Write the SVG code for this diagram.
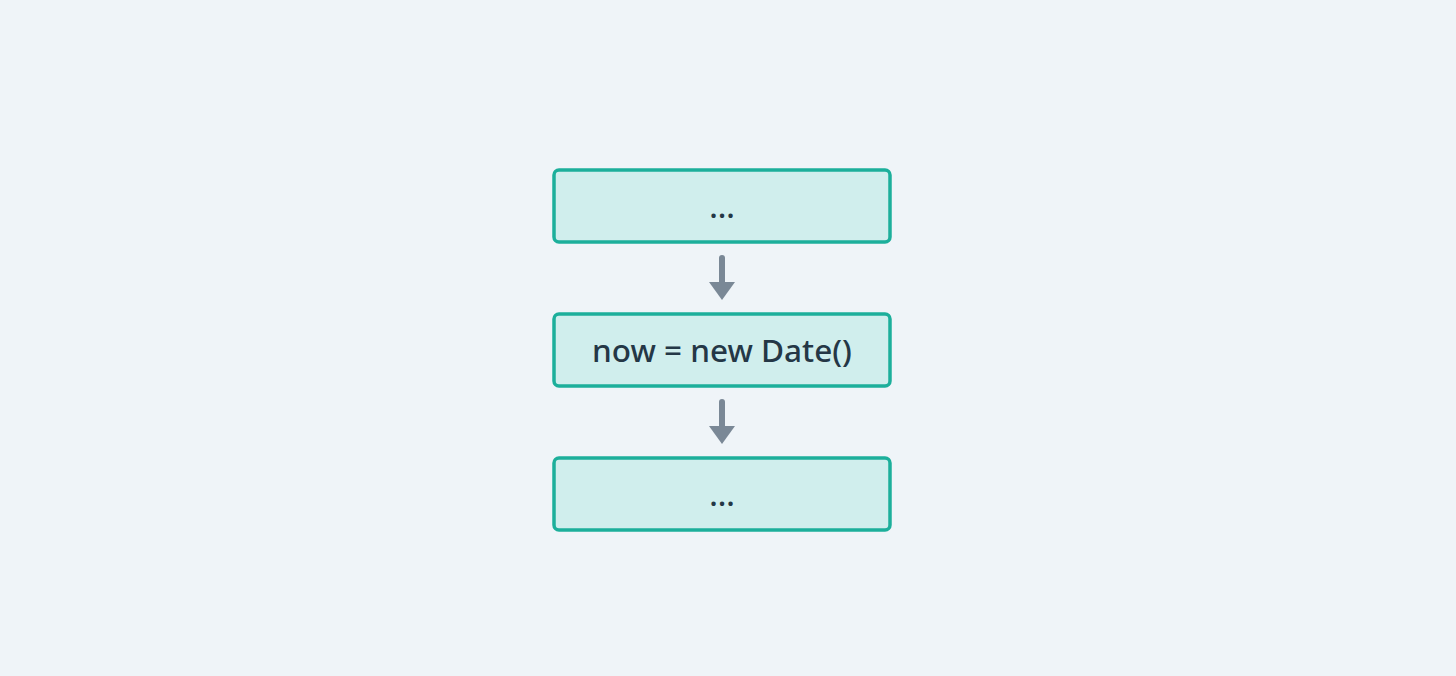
<svg xmlns="http://www.w3.org/2000/svg" width="1456" height="676" viewBox="0 0 1456 676">
<style>
.box{fill:#d0eeed;stroke:#1caf9b;stroke-width:3.5}
.lbl{font-family:"Noto Sans","DejaVu Sans",sans-serif;font-size:31.5px;font-weight:500;fill:#243746;text-anchor:middle}
.edge{stroke:#7a8896;stroke-width:6;stroke-linecap:round;fill:none}
.head{fill:#7a8896}
</style>
<rect width="1456" height="676" fill="#eff4f8"/>
<g id="node1"><rect class="box" x="554" y="170" width="336" height="72" rx="5"/><text class="lbl" x="722" y="218">...</text></g>
<g id="node2"><rect class="box" x="554" y="314" width="336" height="72" rx="5"/><text class="lbl" x="722" y="362">now = new Date()</text></g>
<g id="node3"><rect class="box" x="554" y="458" width="336" height="72" rx="5"/><text class="lbl" x="722" y="506">...</text></g>
<g id="connectors">
<line class="edge" x1="722" y1="258" x2="722" y2="284"/>
<polygon class="head" points="709,282 735,282 722,300"/>
<line class="edge" x1="722" y1="402" x2="722" y2="428"/>
<polygon class="head" points="709,426 735,426 722,444"/>
</g>
</svg>
